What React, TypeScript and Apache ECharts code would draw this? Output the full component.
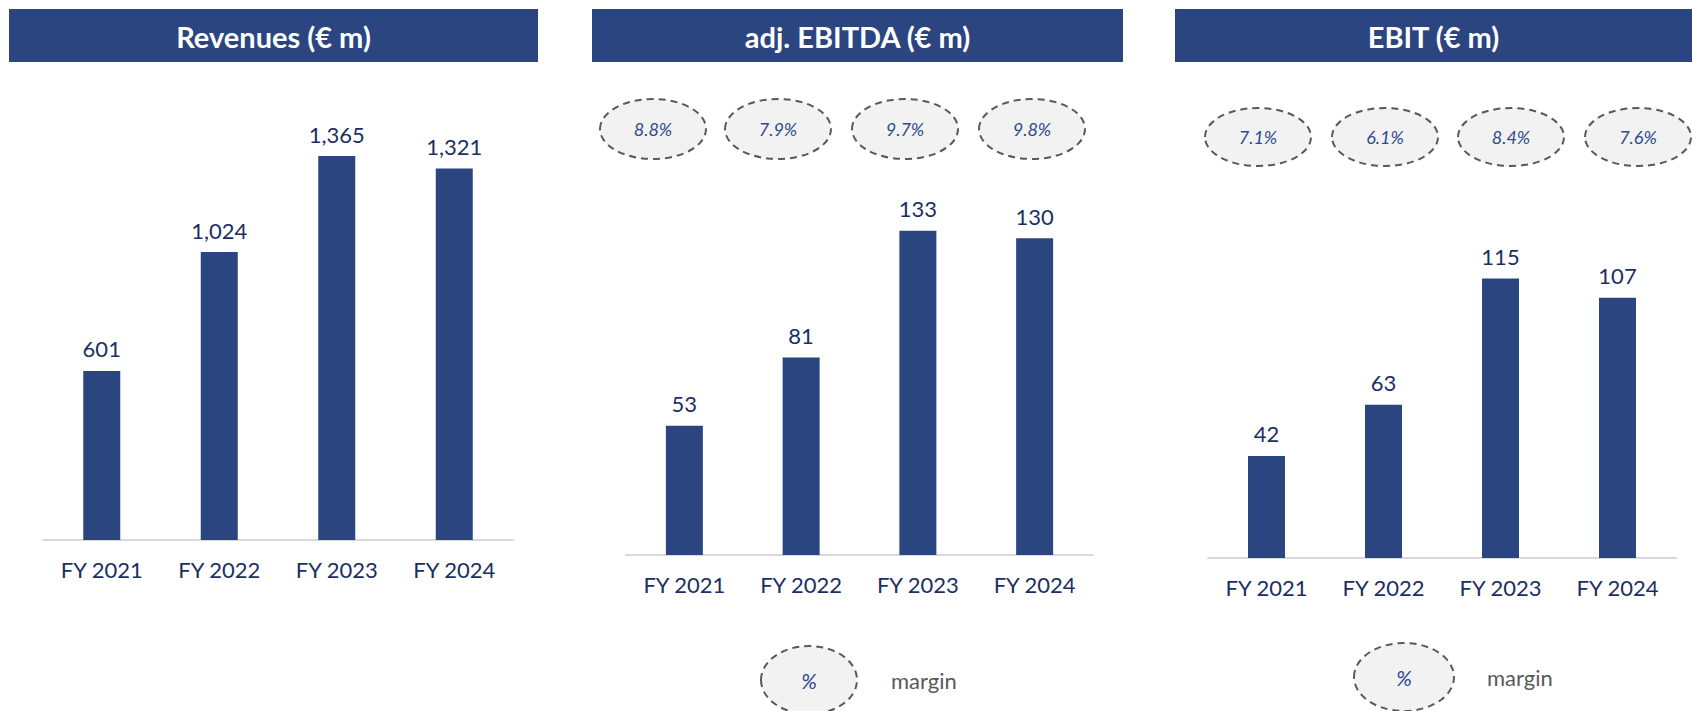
import React, { useEffect, useRef } from "react";
import * as echarts from "echarts";

const categories = ["FY 2021", "FY 2022", "FY 2023", "FY 2024"];
const revenues = [601, 1024, 1365, 1321];
const ebitda = [53, 81, 133, 130];
const ebit = [42, 63, 115, 107];
const ebitdaMargins = [8.8, 7.9, 9.7, 9.8];
const ebitMargins = [7.1, 6.1, 8.4, 7.6];
const titles = ["Revenues (€ m)", "adj. EBITDA (€ m)", "EBIT (€ m)"];

const NAVY = "#2B4580";
const LABEL = "#1B2F63";
const FONT = "Lato, 'Open Sans', sans-serif";

export default function App() {
  const ref = useRef<HTMLDivElement>(null);
  useEffect(() => {
    if (!ref.current) return;
    const chart = echarts.init(ref.current, null, { renderer: "svg" });

    const grids = [
      { left: 43, width: 470, top: 90, height: 450 },
      { left: 626, width: 467, top: 165, height: 390 },
      { left: 1208, width: 468, top: 169, height: 389 },
    ];
    const maxes = [1600, 160, 160];
    const datas = [revenues, ebitda, ebit];

    const headers = [
      { x: 9, w: 529 },
      { x: 592, w: 531 },
      { x: 1175, w: 517 },
    ];

    const graphic: any[] = [];
    headers.forEach((h, i) => {
      graphic.push({
        type: "rect",
        shape: { x: h.x, y: 9, width: h.w, height: 53 },
        style: { fill: NAVY },
        z: 1,
      });
      graphic.push({
        type: "text",
        x: h.x + h.w / 2,
        y: 36,
        style: {
          text: titles[i],
          fill: "#FFFFFF",
          font: `bold 29px ${FONT}`,
          align: "center",
          verticalAlign: "middle",
        },
        z: 2,
      });
    });

    const ellipse = (cx: number, cy: number, rx: number, ry: number, txt: string, size: number) => {
      graphic.push({
        type: "ellipse",
        shape: { cx, cy, rx, ry },
        style: { fill: "#F2F2F2", stroke: "#595959", lineWidth: 2, lineDash: [7, 5] },
        z: 1,
      });
      graphic.push({
        type: "text",
        x: cx,
        y: cy,
        style: {
          text: txt,
          fill: "#2F4B8C",
          font: `italic ${size}px ${FONT}`,
          align: "center",
          verticalAlign: "middle",
        },
        z: 2,
      });
    };

    const e2x = [653, 778, 905, 1032];
    ebitdaMargins.forEach((m, i) => ellipse(e2x[i], 129, 53, 30, m.toFixed(1) + "%", 18));
    const e3x = [1258, 1385, 1511, 1638];
    ebitMargins.forEach((m, i) => ellipse(e3x[i], 137, 53, 29, m.toFixed(1) + "%", 18));

    // legends
    ellipse(809, 680, 48, 34, "%", 21);
    ellipse(1404, 677, 50, 34, "%", 21);
    graphic.push({
      type: "text",
      x: 891,
      y: 680,
      style: { text: "margin", fill: "#595959", font: `22px ${FONT}`, align: "left", verticalAlign: "middle" },
    });
    graphic.push({
      type: "text",
      x: 1487,
      y: 677,
      style: { text: "margin", fill: "#595959", font: `22px ${FONT}`, align: "left", verticalAlign: "middle" },
    });

    chart.setOption({
      animation: false,
      grid: grids,
      xAxis: grids.map((_, i) => ({
        type: "category",
        gridIndex: i,
        data: categories,
        axisLine: { lineStyle: { color: "#D9D9D9", width: 2 } },
        axisTick: { show: false },
        axisLabel: { color: LABEL, fontFamily: FONT, fontSize: 22, margin: 18 },
      })),
      yAxis: grids.map((_, i) => ({
        type: "value",
        gridIndex: i,
        min: 0,
        max: maxes[i],
        show: false,
        splitLine: { show: false },
      })),
      series: datas.map((d, i) => ({
        type: "bar",
        xAxisIndex: i,
        yAxisIndex: i,
        data: d,
        barWidth: 37,
        itemStyle: { color: NAVY },
        label: {
          show: true,
          position: "top",
          distance: 11,
          color: LABEL,
          fontFamily: FONT,
          fontSize: 22,
          formatter: (p: any) => Number(p.value).toLocaleString("en-US"),
        },
      })),
      graphic,
    });

    return () => chart.dispose();
  }, []);

  return (
    <div
      ref={ref}
      style={{ position: "fixed", left: 0, top: 0, width: 1692, height: 711, background: "#fff" }}
    />
  );
}
